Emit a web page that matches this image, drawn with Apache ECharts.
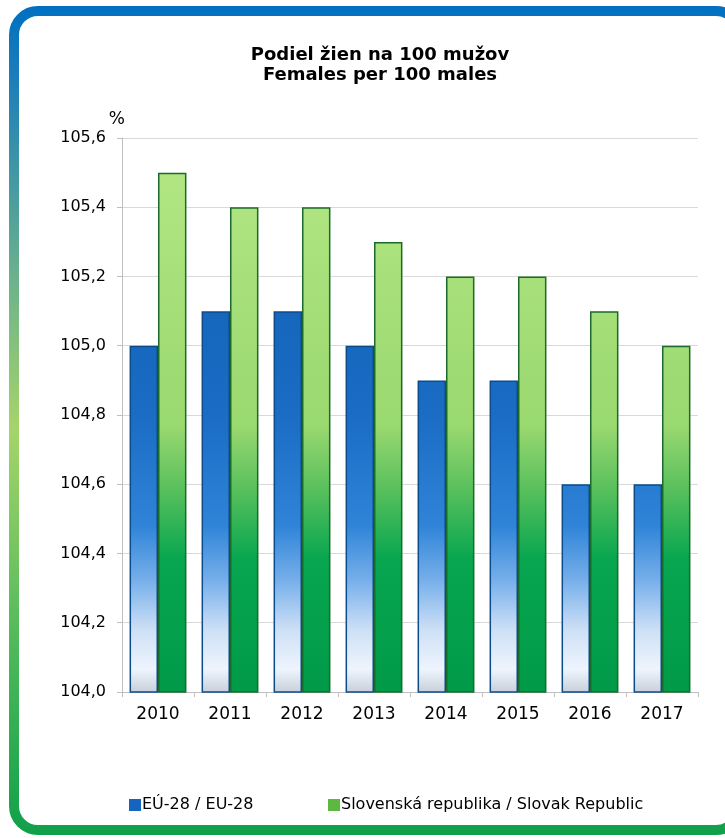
<!DOCTYPE html>
<html>
<head>
<meta charset="utf-8">
<script src="https://cdn.jsdelivr.net/npm/echarts@6/dist/echarts.min.js"></script>
<style>
html,body{margin:0;padding:0;background:#fff;}
#chart{width:725px;height:838px;}
</style>
</head>
<body>
<div id="chart"></div>
<script>
const titleLines = ['Podiel žien na 100 mužov', 'Females per 100 males'];
const categories = ['2010','2011','2012','2013','2014','2015','2016','2017'];
const seriesNames = ['EÚ-28 / EU-28', 'Slovenská republika / Slovak Republic'];
const euValues = [105.0, 105.1, 105.1, 105.0, 104.9, 104.9, 104.6, 104.6];
const skValues = [105.5, 105.4, 105.4, 105.3, 105.2, 105.2, 105.1, 105.0];
const yMin = 104.0, yMax = 105.6, yStep = 0.2;
const yUnit = '%';

const chart = echarts.init(document.getElementById('chart'));
const FONT = 'DejaVu Sans';

const blueGrad = new echarts.graphic.LinearGradient(0, 138, 0, 692, [
  {offset: 0, color: '#0d5cb0'},
  {offset: 0.5, color: '#1a6cc4'},
  {offset: 0.7, color: '#2f84d8'},
  {offset: 0.8, color: '#78b0ea'},
  {offset: 0.89, color: '#cfe1f6'},
  {offset: 0.96, color: '#eef4fc'},
  {offset: 1, color: '#c8d0dc'}
], true);
const greenGrad = new echarts.graphic.LinearGradient(0, 138, 0, 692, [
  {offset: 0, color: '#b4e884'},
  {offset: 0.52, color: '#9ad870'},
  {offset: 0.64, color: '#55bf5c'},
  {offset: 0.76, color: '#08a650'},
  {offset: 1, color: '#009a48'}
], true);

const borderGrad = new echarts.graphic.LinearGradient(0, 0, 0, 1, [
  {offset: 0, color: '#0070c0'},
  {offset: 0.08, color: '#1a7cbc'},
  {offset: 0.18, color: '#3a93a8'},
  {offset: 0.35, color: '#72b688'},
  {offset: 0.51, color: '#a6d46a'},
  {offset: 0.78, color: '#4cb85a'},
  {offset: 1, color: '#10a04a'}
]);

const option = {
  backgroundColor: '#fff',
  animation: false,
  title: {
    text: titleLines.join('\n'),
    left: 375, top: 40, textAlign: 'center',
    textStyle: {fontFamily: FONT, fontSize: 18, fontWeight: 'bold', color: '#000', lineHeight: 20}
  },
  graphic: [{
    type: 'rect',
    shape: {x: 14, y: 11, width: 726, height: 819, r: 24},
    style: {fill: 'none', stroke: borderGrad, lineWidth: 10},
    z: 100
  }],
  grid: {left: 122, right: 27, top: 138, bottom: 146},
  legend: [{
    left: 124, top: 792, itemWidth: 12, itemHeight: 12, icon: 'rect', itemGap: 4,
    textStyle: {fontFamily: FONT, fontSize: 16, color: '#000', padding: [0,0,0,-4]},
    data: [{name: seriesNames[0], itemStyle: {color: '#1565c0', borderWidth: 0}}]
  }, {
    left: 323, top: 792, itemWidth: 12, itemHeight: 12, icon: 'rect',
    textStyle: {fontFamily: FONT, fontSize: 16, color: '#000', padding: [0,0,0,-4]},
    data: [{name: seriesNames[1], itemStyle: {color: '#5cb840', borderWidth: 0}}]
  }],
  xAxis: {
    type: 'category', data: categories,
    axisLine: {lineStyle: {color: '#bfbfbf', width: 1}},
    axisTick: {show: true, length: 5, lineStyle: {color: '#bfbfbf'}},
    axisLabel: {fontFamily: FONT, fontSize: 17, color: '#000', margin: 14}
  },
  yAxis: {
    type: 'value', min: yMin, max: yMax, interval: yStep,
    name: yUnit, nameLocation: 'end', nameGap: 10,
    nameTextStyle: {fontFamily: FONT, fontSize: 17, color: '#000', align: 'right', padding: [0, -3, 0, 0]},
    axisLine: {show: true, lineStyle: {color: '#bfbfbf'}},
    axisTick: {show: true, length: 5, lineStyle: {color: '#bfbfbf'}},
    splitLine: {lineStyle: {color: '#d9d9d9'}},
    axisLabel: {fontFamily: FONT, fontSize: 16, color: '#000', margin: 16,
      formatter: v => v.toFixed(1).replace('.', ',')}
  },
  series: [{
    name: seriesNames[0], type: 'bar', data: euValues,
    barGap: '0%', barCategoryGap: '21%',
    itemStyle: {color: blueGrad, borderColor: '#0b4c8c', borderWidth: 1.5}
  }, {
    name: seriesNames[1], type: 'bar', data: skValues,
    itemStyle: {color: greenGrad, borderColor: '#1b6a2c', borderWidth: 1.5}
  }]
};
chart.setOption(option);
</script>
</body>
</html>
